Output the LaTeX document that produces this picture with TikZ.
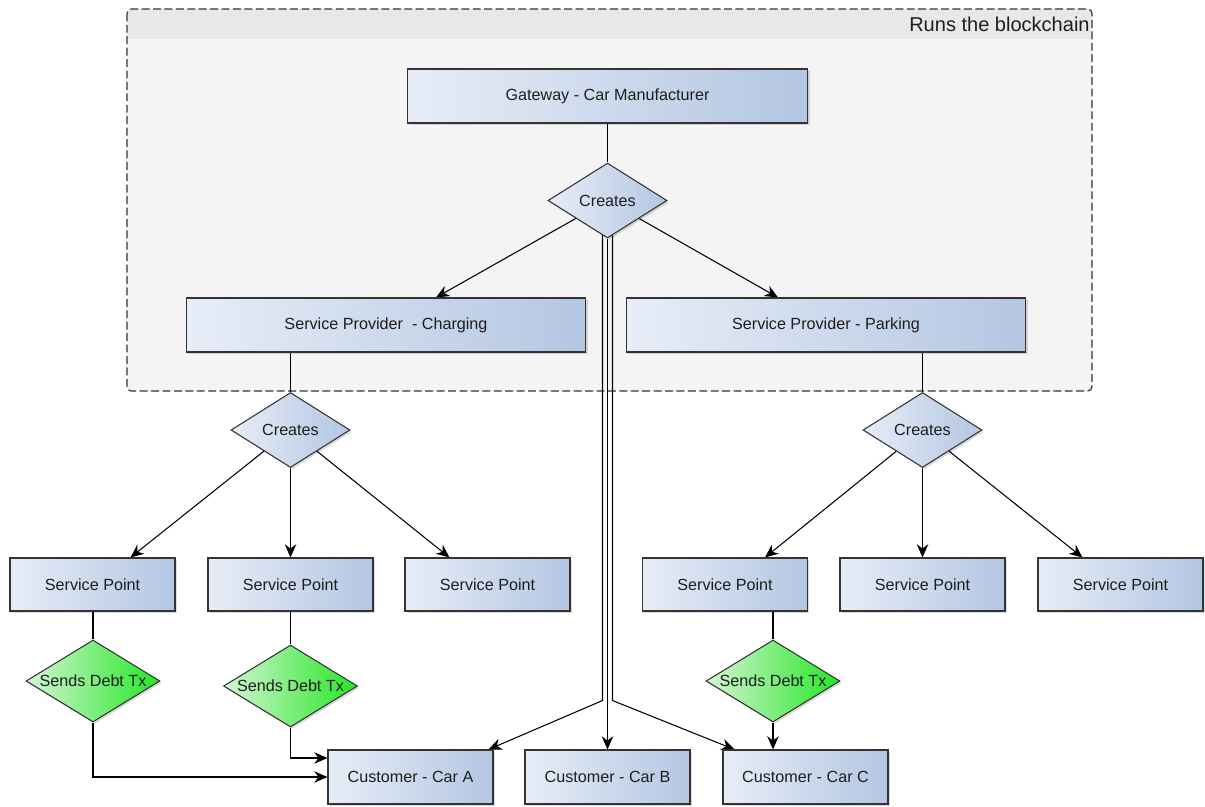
\documentclass[tikz,border=0pt]{standalone}
\usepackage{fontspec}
\setmainfont{Liberation Sans}
\usetikzlibrary{shapes.geometric}
\usetikzlibrary{arrows.meta}
\usetikzlibrary{shadows}
\usetikzlibrary{backgrounds}
\usetikzlibrary{calc}

\definecolor{boxl}{HTML}{E7EDF7}
\definecolor{boxr}{HTML}{B3C6E2}
\definecolor{greenl}{HTML}{D4F6D4}
\definecolor{greenr}{HTML}{26E626}
\definecolor{pane}{HTML}{F4F4F4}
\definecolor{panehead}{HTML}{E8E8E8}
\definecolor{edge}{HTML}{333333}
\definecolor{ink}{HTML}{1E1E1E}

\tikzset{
  softshadow/.style = {drop shadow = {shadow xshift = 1pt, shadow yshift = -1.1pt,
      opacity = .14, fill = black}},
  entity/.style = {draw = edge, line width = .6pt, left color = boxl, right color = boxr,
    text = ink, font = \fontsize{9.2}{11}\selectfont, inner sep = 0pt, softshadow},
  choice/.style = {entity, diamond, minimum width = 2.38cm, minimum height = 1.5cm},
  debt/.style = {entity, diamond, left color = greenl, right color = greenr,
    minimum width = 2.68cm, minimum height = 1.64cm},
  link/.style = {line width = .6pt, black},
  arr/.style = {link, -{Stealth[length = 7.5pt, width = 6.5pt, inset = 2.4pt]}},
}

\begin{document}
\begin{tikzpicture}[x = 0.02cm, y = -0.02cm]
  \useasboundingbox (0, 0) rectangle (1205, 806);

  \begin{scope}[on background layer]
    \begin{scope}
      \clip[rounded corners = 2.5pt] (127, 9) rectangle (1092, 391);
      \fill[pane] (127, 9) rectangle (1092, 391);
      \fill[panehead] (127, 9) rectangle (1092, 39);
    \end{scope}
    \draw[edge, line width = .7pt, dash pattern = on 4.5pt off 2pt,
      rounded corners = 2.5pt] (127, 9) rectangle (1092, 391);
  \end{scope}
  \node[anchor = base east, inner sep = 0pt, text = ink,
    font = \fontsize{11.4}{13}\selectfont] (chain) at (1090, 31) {Runs the blockchain};

  \node[entity, minimum width = 8.02cm, minimum height = 1.08cm] (gw) at (607.5, 96)
  {Gateway - Car Manufacturer};
  \node[choice] (cr) at (607.5, 200.5) {\makebox[0pt]{Creates}};

  \node[entity, minimum width = 8cm, minimum height = 1.08cm] (spc) at (386, 325)
  {Service Provider~ - Charging};
  \node[entity, minimum width = 8cm, minimum height = 1.08cm] (spp) at (826, 325)
  {Service Provider - Parking};

  \node[choice] (crc) at (290.5, 430) {\makebox[0pt]{Creates}};
  \node[choice] (crp) at (922.5, 430) {\makebox[0pt]{Creates}};

  \foreach \x [count = \n] in {92.5, 290.5, 487.5, 725, 922.5, 1120.5}{
    \node[entity, minimum width = 3.3cm, minimum height = 1.06cm] (sp\n) at (\x, 584.5)
    {Service Point};
  }

  \node[debt] (tx1) at (93, 681) {\makebox[0pt]{Sends Debt Tx}};
  \node[debt] (tx2) at (290.5, 686) {\makebox[0pt]{Sends Debt Tx}};
  \node[debt] (tx3) at (773, 681) {\makebox[0pt]{Sends Debt Tx}};

  \foreach \x/\c in {410.5/A, 607.5/B, 805.5/C}{
    \node[entity, minimum width = 3.3cm, minimum height = 1.08cm] (car\c) at (\x, 777)
    {Customer - Car \c};
  }

  \begin{scope}[on background layer]
    \draw[link] (gw) -- (cr);
    \draw[arr] (cr) -- ($(spc.north) + (50, 0)$);
    \draw[arr] (cr) -- ($(spp.north) + (-48, 0)$);

    \draw[link] (crc.north) -- (crc.north |- spc.south);
    \draw[link] (crp.north) -- (crp.north |- spp.south);

    \draw[arr] (crc) -- ($(sp1.north) + (38, 0)$);
    \draw[arr] (crc) -- (sp2);
    \draw[arr] (crc) -- ($(sp3.north) + (-38, 0)$);
    \draw[arr] (crp) -- ($(sp4.north) + (40, 0)$);
    \draw[arr] (crp) -- (sp5);
    \draw[arr] (crp) -- ($(sp6.north) + (-38, 0)$);

    \draw[link] (tx1.north) -- (tx1.north |- sp1.south);
    \draw[link] (tx2.north) -- (tx2.north |- sp2.south);
    \draw[link] (tx3.north) -- (tx3.north |- sp4.south);

    \draw[arr] (tx1.south) |- (carA.west);
    \draw[arr] (tx2.south) |- ($(carA.west) + (0, -19)$);
    \draw[arr] (tx3.south) -- (tx3.south |- carC.north);

    %\draw[arr] (cr) -- (carA);
    \draw[arr] ($(cr.south) + (-5, -5)$) -- ++(0, 467) -- ($(carA.north east) + (-5, 0)$);
    \draw[arr] (cr) -- (carB);
    \draw[arr] ($(cr.south) + (5, -5)$) -- ++(0, 467) -- ($(carC.north west) + (12, 0)$);
  \end{scope}
\end{tikzpicture}
\end{document}
